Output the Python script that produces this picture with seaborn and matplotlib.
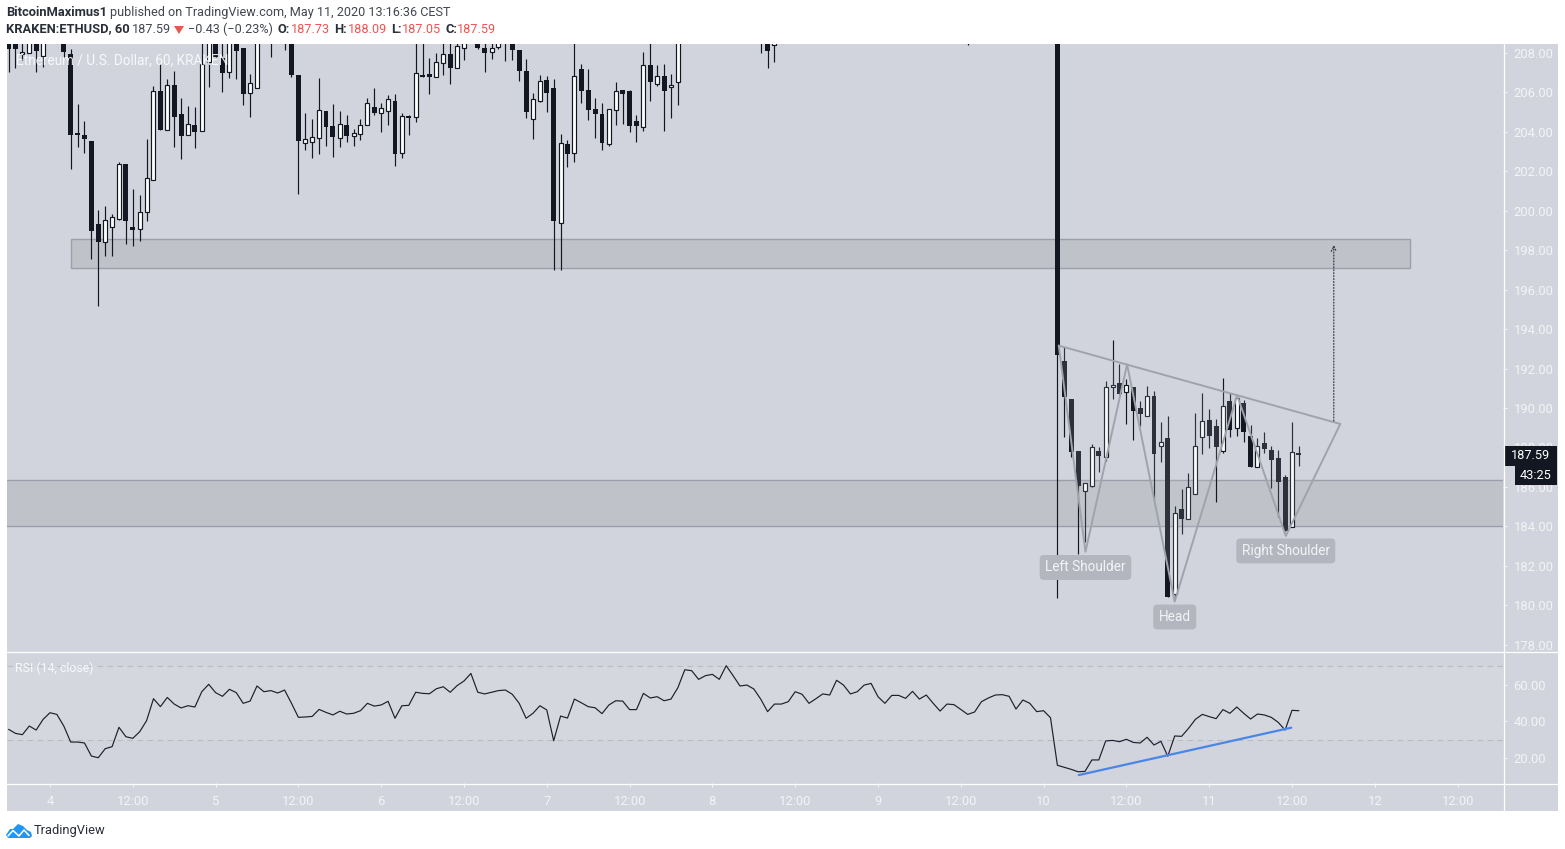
"""ETHUSD 1h candles with an inverse head and shoulders and RSI panel."""
import matplotlib
matplotlib.use('Agg')
import matplotlib.pyplot as plt
from matplotlib.patches import Polygon, Rectangle
import numpy as np
import pandas as pd
import seaborn as sns

W, H = 1565, 849

# hours since May 4 00:00, only candles that show inside the window
hours = [*range(-6, 0), *range(2, 31), 32, *range(34, 61), *range(62, 92),
         103, 104, 105, 133, *range(146, 182)]
opens = [209, 209, 207.93, 208.02, 209, 207.87,
         209, 207.95, 203.93, 203.84, 203.54, 199.33, 198.43, 199.2, 199.6, 202.37,
         199.18, 199.1, 199.96, 201.58, 206.08, 204.12, 206.38, 204.91, 203.82, 204.36,
         204.02, 207.56, 209, 207.75, 207.05, 209, 208.25, 205.99, 206.24,
         209.2,
         209, 209, 206.89, 203.45, 203.5, 203.71, 205.04, 204.28, 203.71, 204.33,
         203.81, 203.91, 204.37, 205.26, 204.98, 205.08, 205.57, 202.95, 204.81, 204.77,
         206.87, 206.92, 206.8, 207.51, 207.93, 207.24, 208.25,
         208.5, 208.25, 208.07, 208.32, 209, 209, 208.15, 207.09, 204.64, 205.58,
         206.61, 206.22, 199.36, 203.37, 202.91, 207.17, 206.11, 205.16, 204.91, 203.4,
         205.13, 206.11, 206.07, 204.53, 204.27, 207.37, 206.41, 206.82, 206.29, 206.55,
         209, 209, 208.39, 209,
         209, 192.38, 190.44, 187.82, 185.81, 186.06, 187.8, 187.53, 191.05, 191.25,
         190.79, 191.05, 189.98, 189.61, 190.61, 188.09, 188.48, 180.55, 184.88, 184.39,
         185.66, 188.51, 189.39, 189.09, 187.83, 190.35, 189.0, 190.25, 188.58, 187.02,
         188.2, 187.87, 187.46, 186.5, 183.98, 187.73]
highs = [209.5, 209.5, 209, 209.5, 209.5, 209.5,
         209.5, 208.2, 205.42, 204.55, 203.54, 200.04, 200.25, 199.82, 202.48, 202.37,
         201.11, 200.8, 203.64, 206.33, 207.44, 206.68, 207.1, 205.72, 205.32, 205.28,
         209.5, 209.5, 209.5, 209, 209.5, 209.5, 208.25, 206.92, 209.5,
         209.5,
         209.5, 209.5, 206.89, 204.96, 204.66, 206.73, 205.04, 205.42, 205.06, 204.86,
         204.15, 204.66, 205.72, 206.23, 205.47, 205.87, 205.92, 204.96, 204.85, 208.6,
         208.6, 207.73, 207.99, 208.6, 208.6, 208.6, 209.5,
         208.6, 208.6, 208.6, 208.9, 209.5, 209.5, 208.15, 207.7, 205.95, 206.87,
         206.82, 206.67, 203.89, 203.57, 209, 207.44, 207.17, 205.7, 205.45, 205.14,
         206.53, 206.11, 206.12, 204.85, 208.03, 209, 207.37, 207.44, 206.94, 209.5,
         209.5, 209.5, 209.5, 209.5,
         209.5, 193.11, 190.44, 187.82, 186.18, 188.17, 188.04, 191.35, 193.45, 192.23,
         191.45, 191.05, 190.37, 191.11, 190.86, 189.29, 189.59, 185.03, 185.89, 186.69,
         189.73, 190.74, 189.95, 189.42, 191.5, 190.74, 190.66, 190.4, 189.14, 188.49,
         188.78, 188.07, 187.87, 186.6, 189.27, 188.09]
lows = [207.06, 207.26, 207.65, 207.9, 207.06, 207.31,
        207.73, 202.12, 203.24, 202.93, 197.55, 195.19, 197.71, 197.71, 199.53, 198.31,
        198.21, 198.47, 199.48, 201.58, 204.07, 204.12, 203.24, 202.63, 203.82, 203.19,
        204.02, 206.26, 207.82, 206.04, 206.73, 206.68, 205.37, 204.76, 206.24,
        207.78,
        208.15, 206.79, 200.87, 203.06, 202.67, 202.88, 203.29, 202.73, 203.24, 203.49,
        203.29, 203.59, 204.37, 204.86, 204.0, 204.35, 202.27, 202.68, 203.84, 204.5,
        206.79, 205.92, 206.8, 206.89, 206.43, 207.24, 207.65,
        208.2, 207.04, 207.7, 208.2, 207.61, 207.64, 206.6, 204.72, 203.66, 205.53,
        205.02, 197.0, 197.0, 202.24, 202.49, 205.48, 204.62, 203.71, 203.1, 203.3,
        204.37, 204.42, 204.01, 203.5, 204.06, 205.58, 206.34, 204.06, 204.7, 205.38,
        208.02, 207.26, 207.56, 208.4,
        180.38, 188.55, 187.53, 182.61, 183.22, 185.98, 186.77, 187.33, 190.45, 190.73,
        189.2, 188.38, 189.09, 189.61, 185.33, 187.28, 180.43, 180.4, 183.61, 184.39,
        185.66, 187.67, 187.97, 185.25, 187.73, 188.55, 188.58, 188.29, 187.02, 187.02,
        187.73, 185.93, 184.49, 183.76, 183.98, 187.05]
closes = [208.2, 208.21, 208.03, 209, 208.12, 209,
          208.05, 203.86, 203.86, 203.66, 198.99, 198.43, 199.52, 199.67, 202.37, 199.5,
          199.03, 199.93, 201.65, 206.06, 204.07, 206.38, 204.76, 203.8, 204.39, 204.0,
          207.44, 209, 207.82, 207.0, 209, 208.12, 205.92, 206.46, 209,
          208.9,
          208.7, 206.89, 203.54, 203.62, 203.72, 205.1, 204.27, 203.74, 204.39, 203.79,
          203.93, 204.33, 205.45, 204.96, 205.2, 205.67, 202.88, 204.79, 204.72, 206.97,
          206.79, 206.79, 207.53, 207.93, 207.24, 208.34, 209,
          208.25, 208.02, 208.24, 208.6, 208.7, 208.15, 207.09, 205.03, 205.65, 206.56,
          205.99, 199.5, 203.42, 202.9, 206.82, 206.09, 205.13, 204.92, 203.45, 205.14,
          206.06, 205.94, 204.32, 204.3, 207.37, 206.55, 206.82, 206.09, 206.39, 209,
          208.7, 208.12, 209, 208.7,
          192.7, 190.57, 187.78, 186.06, 186.18, 188.0, 187.58, 191.05, 191.18, 190.73,
          191.15, 189.86, 189.71, 190.59, 187.68, 188.26, 180.43, 184.66, 184.39, 185.98,
          188.06, 189.32, 188.58, 188.04, 190.08, 188.9, 190.49, 188.78, 187.02, 188.06,
          187.92, 187.36, 186.25, 183.76, 187.75, 187.59]

# one RSI value per hour from hour -6
rsi_start = -6
rsi_values = [35.7, 33.5, 32.8, 37.5, 35.3, 41.1, 44.7, 43.8, 37.5, 28.8, 28.8, 28.3, 21.2, 20.3,
              25.2, 26.3, 36.8, 31.7, 30.8, 34.4, 40.4, 52.3, 48.0, 53.0, 49.4, 47.3, 48.5, 47.8,
              56.1, 60.1, 55.6, 53.6, 57.4, 55.6, 49.8, 51.0, 59.2, 56.1, 56.7, 55.4, 57.0, 49.8,
              42.2, 42.4, 42.7, 46.5, 44.9, 43.5, 45.5, 44.0, 44.4, 45.8, 49.8, 48.3, 48.9, 50.9,
              41.7, 48.5, 48.7, 55.8, 55.2, 55.0, 57.7, 58.8, 55.8, 59.4, 61.9, 66.0, 55.8, 54.9,
              55.8, 56.7, 57.0, 54.7, 49.8, 41.7,
              44.4, 48.5, 46.2, 29.5, 42.9, 41.8, 52.1, 50.1, 48.0, 47.4, 44.2, 48.9, 51.2, 51.0,
              46.4, 46.4, 55.2, 52.7, 53.4, 51.2, 52.1, 58.3, 68.0, 67.5, 62.8, 64.8, 65.5, 62.8,
              70.2, 64.8, 59.2, 59.7, 57.6, 52.1, 45.3, 49.4, 49.4, 50.7, 56.1, 54.7, 49.8, 52.3,
              54.9, 54.3, 62.3, 59.7, 54.9, 56.1, 59.7, 60.6, 53.4, 49.8, 54.1, 54.1, 52.5, 56.3,
              52.1, 54.3, 49.8, 45.6, 49.4, 49.1, 46.5, 43.8, 45.1, 50.7, 52.7, 54.3, 54.5, 53.6,
              46.7, 51.6, 49.8, 45.3, 45.8, 42.0, 16.2, 15.1, 14.0, 12.7, 12.9, 19.1, 19.1, 29.4,
              29.7, 29.0, 30.3, 28.6, 28.3, 31.4, 27.2, 29.2, 21.1, 32.1, 31.9, 36.2, 41.1, 43.8,
              42.6, 41.5, 46.4, 44.4, 47.8, 44.4, 41.3, 44.0, 43.5, 42.2, 39.5, 35.3, 46.0, 45.8]

# drawings on the chart
zone_upper = (3.05, 197.1, 197.1, 198.56)  # hour from, hour to, price low, price high
zone_lower_prices = (184.01, 186.35)
pattern_hours = [146.2, 150.07, 156.1, 163.0, 172.05, 179.1, 187.0]
pattern_prices = [193.16, 182.71, 192.21, 180.18, 190.64, 183.51, 189.19]
target_hour = 186.06
target_prices = (189.34, 198.26)
rsi_trend_hours = [149.1, 179.9]
rsi_trend_values = [10.9, 36.6]

label_names = ['Left Shoulder', 'Head', 'Right Shoulder']
label_hours = [150.07, 163.0, 179.1]
label_prices = [181.91, 179.4, 182.75]

price_ticks = list(range(178, 210, 2))
rsi_ticks = [20, 40, 60]
rsi_levels = (30, 70)
time_ticks = list(range(0, 216, 12))
time_labels = ['4', '12:00', '5', '12:00', '6', '12:00', '7', '12:00', '8', '12:00',
               '9', '12:00', '10', '12:00', '11', '12:00', '12', '12:00']

BG = '#d1d4dc'
BG_LIGHT = '#d5d7df'
DARK = '#131722'
SOFT = '#f3f4f7'
ZONE_FILL = '#c0c2ca'
ZONE_EDGE = '#9c9fa9'
PATTERN = '#a0a3ac'
RED = '#ef5350'
X_RANGE = (-6.23, 210.58)

sns.set_theme(style='white')
plt.rcParams['font.family'] = ['Roboto', 'DejaVu Sans']


def box(left, top, right, bottom):
    return [left / W, 1 - bottom / H, (right - left) / W, (bottom - top) / H]


fig = plt.figure(figsize=(W / 100, H / 100), dpi=100, facecolor='white')
fig.patches.append(Rectangle((7 / W, 1 - 811 / H), 1551 / W, 767 / H, transform=fig.transFigure,
                             facecolor=BG, edgecolor='none', zorder=-1))

ax = fig.add_axes(box(7, 44, 1503, 651.5), facecolor=BG)
ax_rsi = fig.add_axes(box(7, 651.5, 1503, 783), facecolor=BG)
for a in (ax, ax_rsi):
    a.set_xlim(*X_RANGE)
    a.yaxis.tick_right()
    sns.despine(ax=a, left=True, bottom=True, right=True, top=True)
    a.tick_params(colors=SOFT, labelcolor=SOFT, length=3, width=0.8, labelsize=9.4, pad=4.5,
                  bottom=True, right=True, left=False, top=False)
ax.set_ylim(177.65, 208.456)
ax_rsi.set_ylim(6.6, 77.9)

# -- candles --
hours_a = np.array(hours, dtype=float)
opens_a, highs_a, lows_a, closes_a = map(np.array, (opens, highs, lows, closes))
up = closes_a > opens_a
bottoms = np.minimum(opens_a, closes_a)
heights = np.abs(closes_a - opens_a)
ax.vlines(hours_a, lows_a, highs_a, color=DARK, lw=0.85, zorder=2)
ax.bar(hours_a[~up], heights[~up], bottom=bottoms[~up], width=0.72, color=DARK, lw=0, zorder=3)
ax.bar(hours_a[up], heights[up], bottom=bottoms[up], width=0.58, facecolor='white', edgecolor=DARK,
       lw=0.85, zorder=3)

# -- zones --
ax.add_patch(Rectangle((zone_upper[0], zone_upper[2]), zone_upper[1] - zone_upper[0],
                       zone_upper[3] - zone_upper[2], facecolor=ZONE_FILL, edgecolor=ZONE_EDGE,
                       lw=1, zorder=1))
ax.axhspan(*zone_lower_prices, facecolor=ZONE_FILL, edgecolor='none', zorder=1)
for price in zone_lower_prices:
    ax.axhline(price, color=ZONE_EDGE, lw=1, zorder=1.1)

# -- head and shoulders drawing --
pts = list(zip(pattern_hours, pattern_prices))
for i in (0, 2, 4):
    ax.add_patch(Polygon(pts[i:i + 3], closed=True, facecolor=BG, edgecolor='none', alpha=0.14,
                         zorder=4))
ax.plot(pattern_hours, pattern_prices, color=PATTERN, lw=1.4, zorder=5)
ax.plot([pattern_hours[0], pattern_hours[-1]], [pattern_prices[0], pattern_prices[-1]],
        color=PATTERN, lw=1.4, zorder=5)
ax.annotate('', xy=(target_hour, target_prices[1]), xytext=(target_hour, target_prices[0]),
            arrowprops=dict(arrowstyle='->', linestyle=':', color='#2a2e39', lw=0.8,
                            shrinkA=0, shrinkB=0, mutation_scale=9), zorder=5)
for name, hx, py in zip(label_names, label_hours, label_prices):
    ax.text(hx, py, name, ha='center', va='center', color=SOFT, fontsize=9.8, zorder=6,
            bbox=dict(boxstyle='round,pad=0.4,rounding_size=0.3', facecolor='#b3b6bf', edgecolor='none'))

ax.set_yticks(price_ticks)
ax.set_yticklabels([f'{p:.2f}' for p in price_ticks])
ax.set_xticks([])

# -- RSI panel --
ax_rsi.axhspan(*rsi_levels, facecolor=BG_LIGHT, edgecolor='none', zorder=0)
for level in rsi_levels:
    ax_rsi.axhline(level, color='#b9bcc5', lw=0.8, ls=(0, (5, 4)), zorder=1)
rsi_df = pd.DataFrame({'hour': rsi_start + np.arange(len(rsi_values)), 'rsi': rsi_values})
sns.lineplot(data=rsi_df, x='hour', y='rsi', ax=ax_rsi, color='#1c202b', lw=0.85, errorbar=None,
             zorder=3)
ax_rsi.plot(rsi_trend_hours, rsi_trend_values, color='#4a86e8', lw=1.6, zorder=4)
ax_rsi.set_xlabel('')
ax_rsi.set_ylabel('')
ax_rsi.set_yticks(rsi_ticks)
ax_rsi.set_yticklabels([f'{v:.2f}' for v in rsi_ticks])
ax_rsi.set_xticks(time_ticks)
ax_rsi.set_xticklabels(time_labels)
ax_rsi.tick_params(axis='x', pad=5.5)
ax_rsi.set_xlim(*X_RANGE)

# -- pixel overlay: separators, header, tags, logo --
top = fig.add_axes([0, 0, 1, 1], facecolor='none')
top.set_xlim(0, W)
top.set_ylim(H, 0)
top.axis('off')
top.plot([1503.5, 1503.5], [44, 811], color='white', lw=0.9)
top.plot([7, 1558], [651.5, 651.5], color='white', lw=0.9)
top.plot([7, 1558], [783.5, 783.5], color='white', lw=0.9)

HEAD = 9.1
for x, y, s, c, w in [
    (6, 12, 'BitcoinMaximus1', '#2a2e39', 'bold'),
    (110, 12, 'published on TradingView.com, May 11, 2020 13:16:36 CEST', '#434651', 'normal'),
    (6, 29, 'KRAKEN:ETHUSD, 60', '#2a2e39', 'bold'),
    (132, 29, '187.59', '#434651', 'normal'),
    (188, 29, '\u22120.43 (\u22120.23%)', '#434651', 'normal'),
    (277, 29, 'O:', '#2a2e39', 'bold'),
    (291, 29, '187.73', RED, 'normal'),
    (334, 29, 'H:', '#2a2e39', 'bold'),
    (348, 29, '188.09', RED, 'normal'),
    (391, 29, 'L:', '#2a2e39', 'bold'),
    (402, 29, '187.05', RED, 'normal'),
    (445, 29, 'C:', '#2a2e39', 'bold'),
    (457, 29, '187.59', RED, 'normal'),
]:
    top.text(x, y, s, color=c, fontsize=HEAD if w == 'normal' else 9.3, fontweight=w, ha='left', va='center')
top.add_patch(Polygon([(174, 26), (184, 26), (179, 34)], closed=True, facecolor=RED, edgecolor='none'))

top.text(15.5, 60.5, 'Ethereum / U.S. Dollar, 60, KRAKEN', color='white', alpha=0.85, fontsize=9.8,
         ha='left', va='center')
top.text(15, 668.5, 'RSI (14, close)', color='white', alpha=0.85, fontsize=8.9, ha='left', va='center')

top.add_patch(Rectangle((1504, 446), 53, 19.5, facecolor=DARK, edgecolor='none'))
top.add_patch(Rectangle((1515, 466), 42, 19, facecolor=DARK, edgecolor='none'))
top.text(1530.5, 455.5, '187.59', color='white', fontsize=9.2, ha='center', va='center')
top.text(1536, 475.5, '43:25', color='white', fontsize=9.2, ha='center', va='center')

# TradingView mark and name
top.add_patch(Polygon([(6, 835), (10, 829), (13, 829), (18, 824), (23, 826), (27, 830), (31, 832),
                       (32, 836), (30, 838), (8, 838)], closed=True, facecolor='#2196f3', edgecolor='none'))
top.plot([8, 13, 19, 24, 29], [836, 830.5, 836, 830, 835.5], color='white', lw=1.1)
top.text(34, 830.5, 'TradingView', color='#2a2e39', fontsize=9.3, ha='left', va='center')

fig.savefig('out.png', dpi=100)
